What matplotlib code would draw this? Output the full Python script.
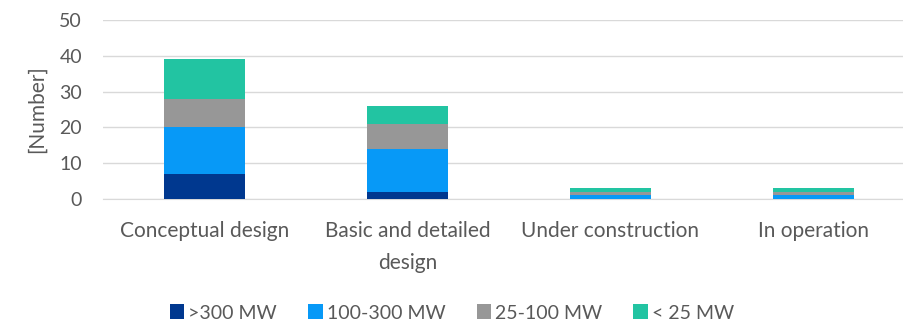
import matplotlib.pyplot as plt
import matplotlib as mpl
import numpy as np

mpl.rcParams['font.family'] = ['Lato', 'DejaVu Sans']
mpl.rcParams['font.size'] = 14

categories = ["Conceptual design", "Basic and detailed\ndesign", "Under construction", "In operation"]
series_names = [">300 MW", "100-300 MW", "25-100 MW", "< 25 MW"]
over_300 = [7, 2, 0, 0]
mw_100_300 = [13, 12, 1, 1]
mw_25_100 = [8, 7, 1, 1]
under_25 = [11, 5, 1, 1]
colors = ["#00388F", "#0799F7", "#979797", "#22C4A2"]

fig = plt.figure(figsize=(9.04, 3.23), dpi=100)
ax = fig.add_axes([103 / 904, 0.384, 812 / 904, 0.554])

x = np.arange(len(categories))
bottom = np.zeros(len(categories))
for name, vals, c in zip(series_names, [over_300, mw_100_300, mw_25_100, under_25], colors):
    ax.bar(x, vals, 0.4, bottom=bottom, color=c, label=name, zorder=3)
    bottom += np.array(vals)

ax.set_xlim(-0.5, len(categories) - 0.5)
ax.set_ylim(0, 50)
ax.set_yticks(range(0, 51, 10))
ax.set_xticks(x)
ax.set_xticklabels(categories, color="#595959", fontsize=15, linespacing=1.75)
ax.tick_params(axis='y', colors="#595959", length=0, pad=15, labelsize=14)
ax.tick_params(axis='x', length=0, pad=16)
ax.grid(axis='y', color="#D9D9D9", linewidth=1, zorder=0)
for s in ["top", "right", "left"]:
    ax.spines[s].set_visible(False)
ax.spines["bottom"].set_color("#D9D9D9")
ax.set_ylabel("[Number]", color="#595959", labelpad=9, fontsize=15)

fig.legend(loc="lower center", ncol=4, frameon=False, bbox_to_anchor=(0.5, -0.05),
           handlelength=0.75, handleheight=0.8, handletextpad=0.2, columnspacing=1.6,
           labelcolor="#595959", fontsize=14)

fig.savefig("out.png", dpi=100)
